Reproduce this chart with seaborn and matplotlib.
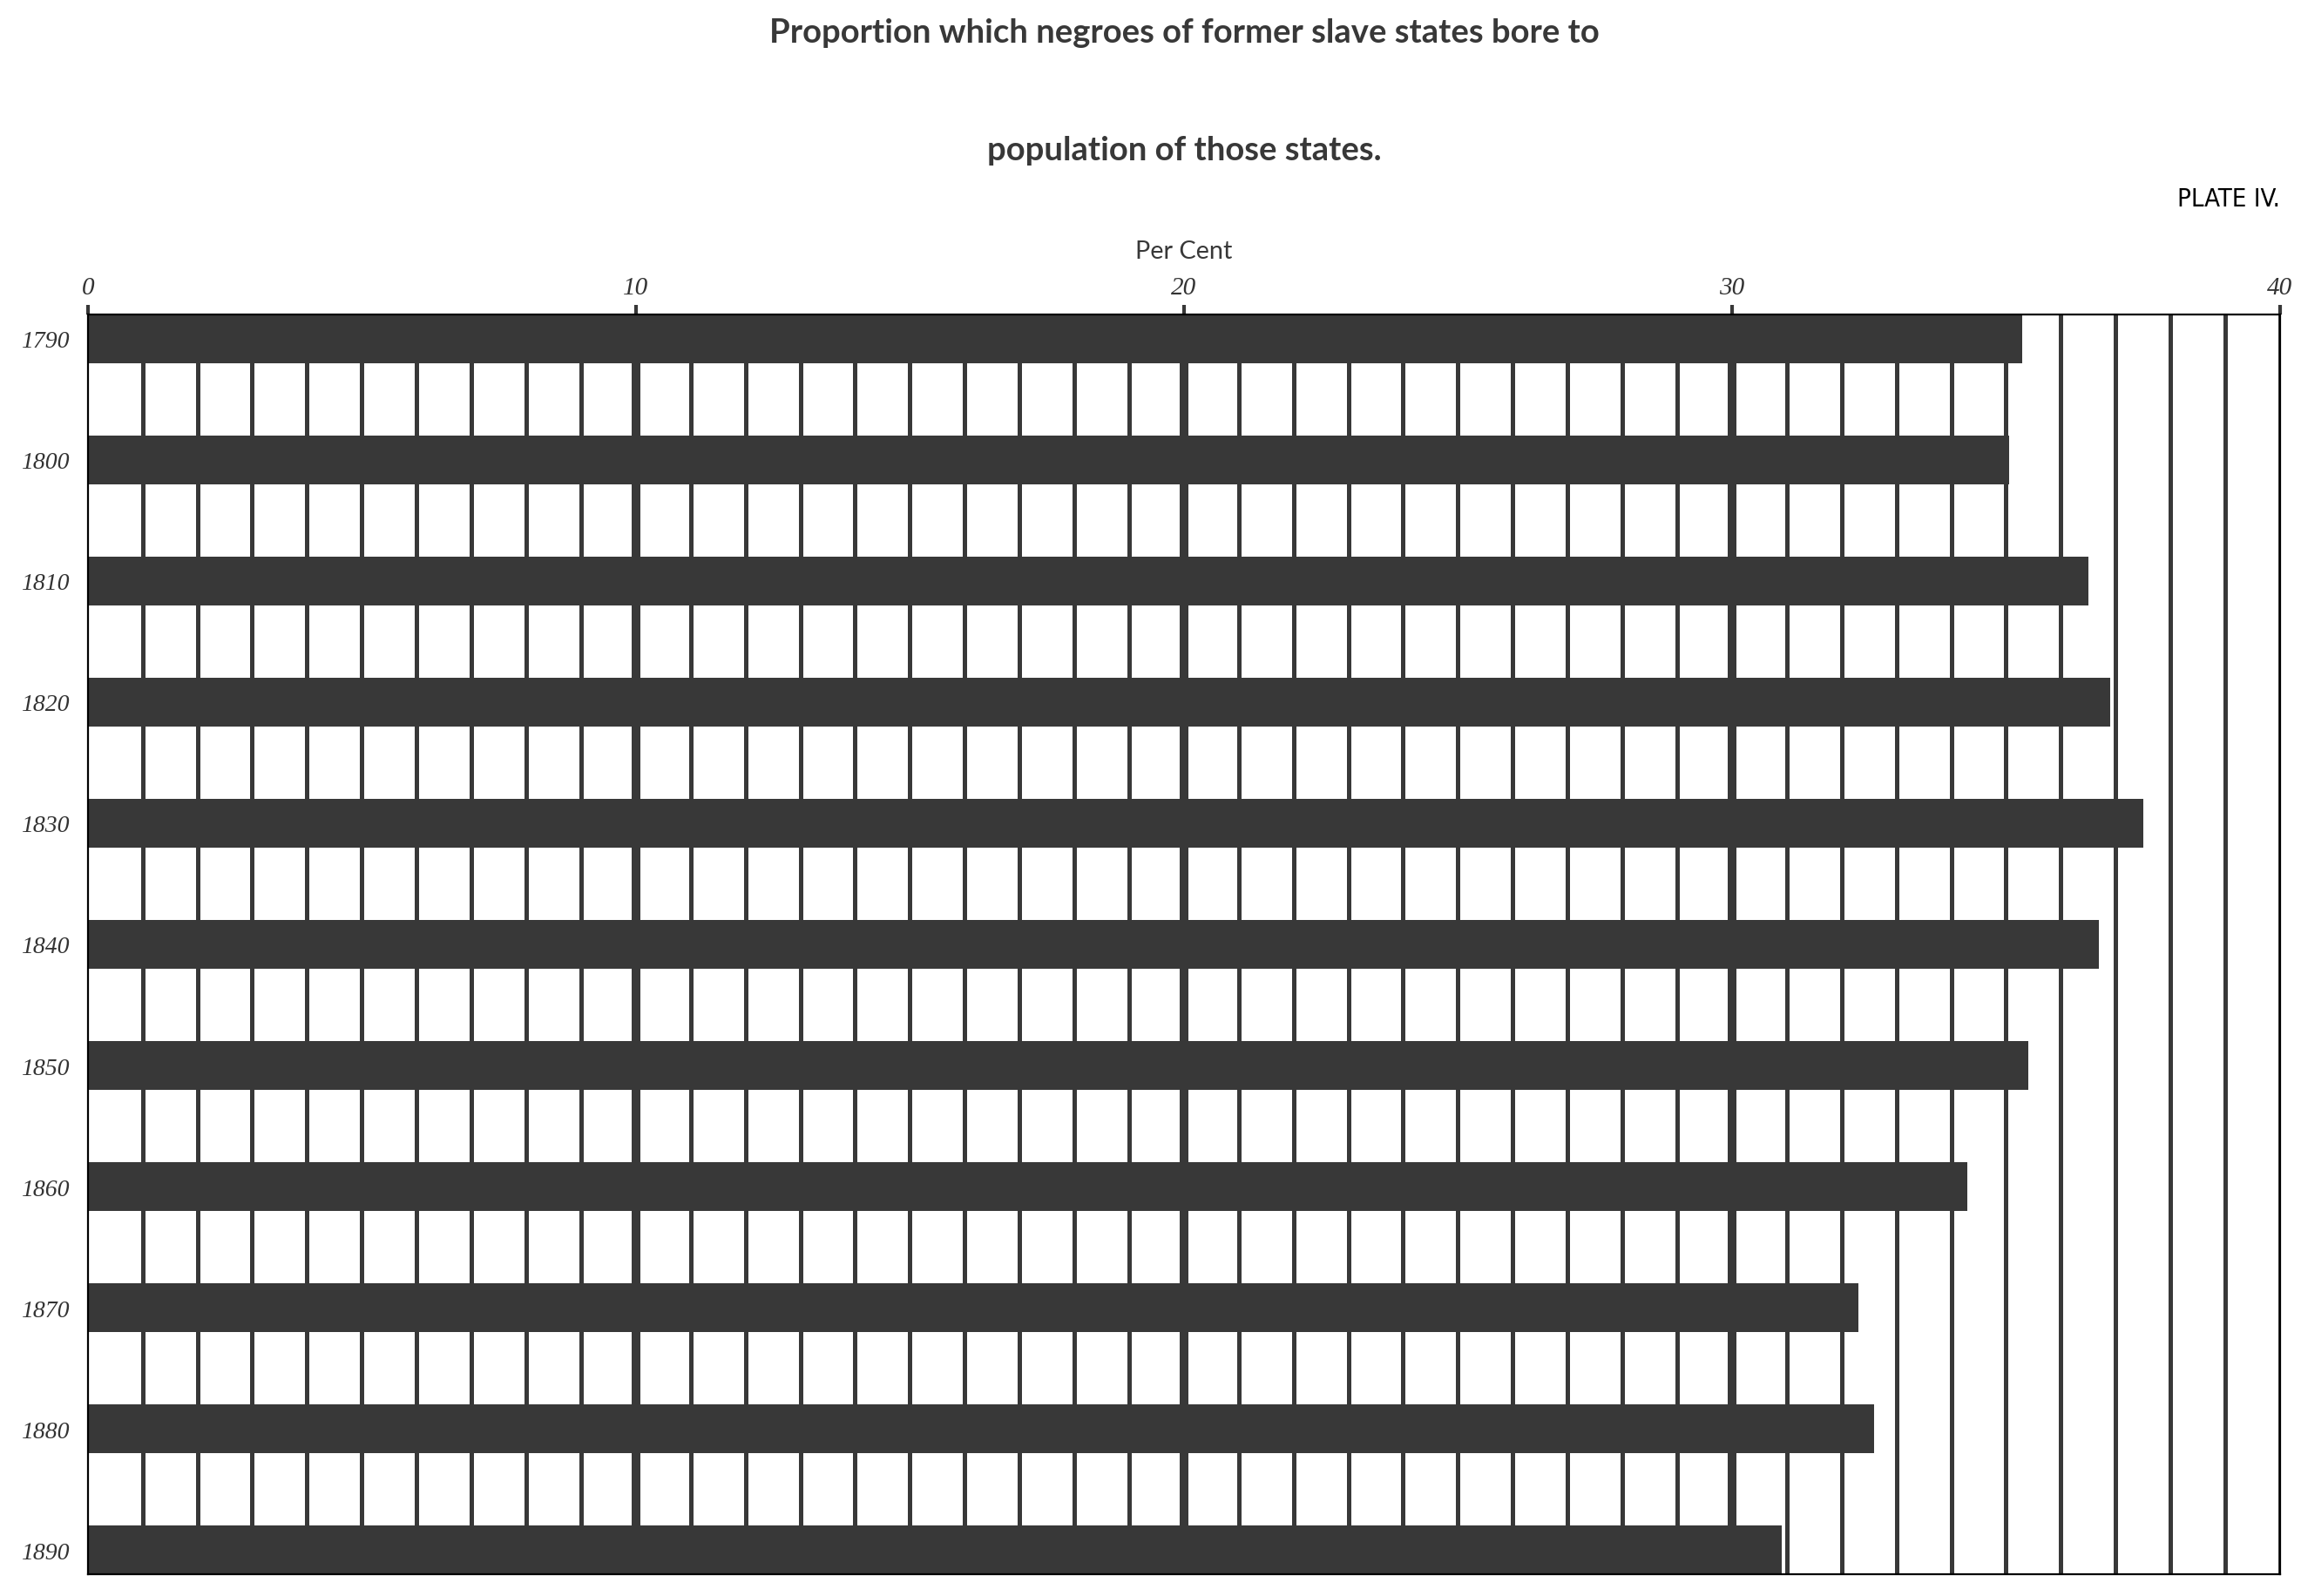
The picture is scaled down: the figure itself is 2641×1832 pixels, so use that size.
import matplotlib
matplotlib.use("Agg")
import matplotlib.pyplot as plt
import seaborn as sns
import pandas as pd

# ---- data ----
years = ["1790", "1800", "1810", "1820", "1830", "1840", "1850", "1860", "1870", "1880", "1890"]
percent = [35.3, 35.05, 36.5, 36.9, 37.5, 36.7, 35.4, 34.3, 32.3, 32.6, 30.9]
x_ticks = [0, 10, 20, 30, 40]
x_tick_labels = ["0", "10", "20", "30", "40"]
title_line1 = "Proportion which negroes of former slave states bore to"
title_line2 = "population of those states."
plate_label = "PLATE IV."
x_label = "Per Cent"

DARK = "#383838"

sns.set_style("white")
plt.rcParams["font.family"] = ["Lato", "DejaVu Sans"]

df = pd.DataFrame({"year": years, "percent": percent})

fig = plt.figure(figsize=(26.41, 18.33), dpi=100)
ax = fig.add_axes([0.03814, 0.01364, 0.95277, 0.78887])

# vertical rules every 1 per cent, heavier at 10, 20, 30
for v in range(1, 41):
    lw = 7.2 if v in (10, 20, 30) else 3.6
    ax.axvline(v, color=DARK, lw=lw, zorder=1, solid_capstyle="butt")

sns.barplot(data=df, x="percent", y="year", orient="h", color=DARK,
            saturation=1, width=0.4, linewidth=0, ax=ax, zorder=3)

ax.set_xlim(0, 40)
ax.set_ylim(len(years) - 1 + 0.2, -0.2)

ax.xaxis.tick_top()
ax.set_xticks(x_ticks)
ax.set_xticklabels(x_tick_labels, fontfamily="Liberation Serif", fontstyle="italic",
                   fontsize=21, color="#333333")
ax.tick_params(axis="x", which="major", direction="out", length=8.2, width=3,
               color=DARK, pad=4.5, top=True, bottom=False)
ax.set_yticks(range(len(years)))
ax.set_yticklabels(years, fontfamily="Liberation Serif", fontstyle="italic",
                   fontsize=20, color="#333333")
ax.tick_params(axis="y", length=0, pad=15)
ax.set_xlabel("")
ax.set_ylabel("")
ax.grid(False)

for s in ["top", "bottom", "left", "right"]:
    ax.spines[s].set_visible(True)
    ax.spines[s].set_color("black")
    ax.spines[s].set_linewidth(1.6)
    ax.spines[s].set_zorder(5)

fig.text(0.5146, 0.97327, title_line1, ha="center", va="baseline",
         fontsize=27.5, fontweight="bold", color=DARK)
fig.text(0.5146, 0.89962, title_line2, ha="center", va="baseline",
         fontsize=27.5, fontweight="bold", color=DARK)
fig.text(0.5146, 0.83797, x_label, ha="center", va="baseline",
         fontsize=20.8, color=DARK)
fig.text(0.9909, 0.87070, plate_label, ha="right", va="baseline",
         fontsize=21, color="black", family=["DejaVu Sans"], fontstretch="condensed")

fig.savefig("out.png", dpi=100, facecolor="white")
